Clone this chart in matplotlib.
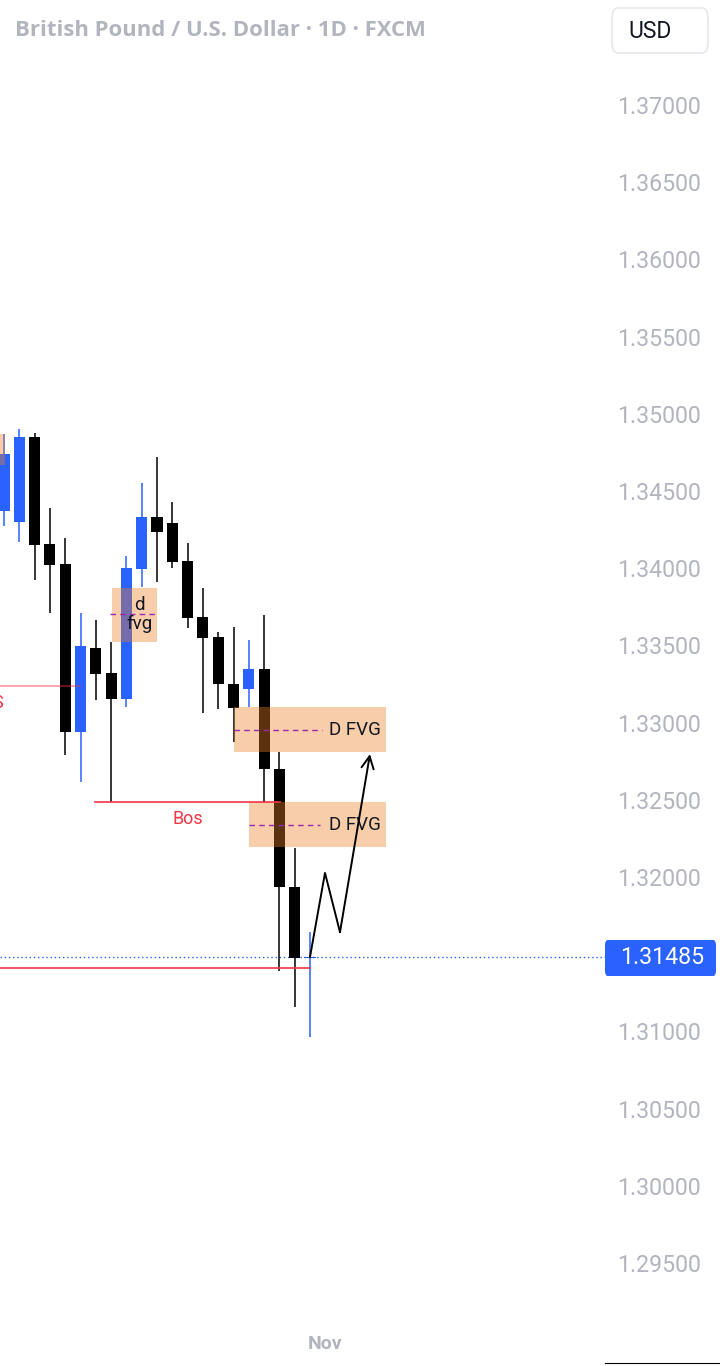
import matplotlib
matplotlib.use("Agg")
import matplotlib.pyplot as plt
from matplotlib.patches import Rectangle, FancyBboxPatch
import numpy as np

plt.rcParams['font.family'] = ['Roboto', 'DejaVu Sans']

# ---- data ----
opens  = [1.34373, 1.34299, 1.34850, 1.34157, 1.34027, 1.32939, 1.33483, 1.33321, 1.33153, 1.33995,
          1.34331, 1.34293, 1.34046, 1.33684, 1.33554, 1.33250, 1.33217, 1.33347, 1.32699, 1.31935, 1.31475]
highs  = [1.34871, 1.34901, 1.34876, 1.34390, 1.34195, 1.33710, 1.33664, 1.33522, 1.34079, 1.34552,
          1.34720, 1.34429, 1.34163, 1.33872, 1.33587, 1.33619, 1.33535, 1.33697, 1.32809, 1.32188, 1.31643]
lows   = [1.34276, 1.34170, 1.33923, 1.33710, 1.32790, 1.32615, 1.33146, 1.32486, 1.33101, 1.33878,
          1.33910, 1.34001, 1.33613, 1.33062, 1.33088, 1.32874, 1.33101, 1.32479, 1.31391, 1.31158, 1.30963]
closes = [1.34742, 1.34850, 1.34150, 1.34021, 1.32939, 1.33496, 1.33315, 1.33153, 1.34001, 1.34331,
          1.34234, 1.34040, 1.33677, 1.33548, 1.33250, 1.33094, 1.33347, 1.32699, 1.31935, 1.31475, 1.31485]

price_ticks = [1.37000, 1.36500, 1.36000, 1.35500, 1.35000, 1.34500, 1.34000, 1.33500,
               1.33000, 1.32500, 1.32000, 1.31000, 1.30500, 1.30000, 1.29500]
last_price = 1.31485
time_label = "Nov"
time_label_idx = 21

# annotation zones: (x0, x1, top, bottom)
fvg_zones = [(-1.0, 0.07, 1.34869, 1.34668),
             (7.06, 10.0, 1.33872, 1.33522),
             (15.03, 24.97, 1.33101, 1.32809),
             (16.01, 24.97, 1.32486, 1.32194)]
fvg_mids = [(6.93, 10.0, 1.33703), (15.03, 20.78, 1.32955), (16.0, 20.65, 1.32340)]
fvg_labels = [("d\nfvg", 8.85, 1.33700), ("D FVG", 22.95, 1.32955), ("D FVG", 22.95, 1.32340)]
red_lines = [(-0.5, 4.97, 1.33237, 0.5), (5.95, 18.04, 1.32486, 1.0), (-0.5, 20.0, 1.31410, 1.0)]
arrow_x = [20.0, 20.98, 21.96, 23.92]
arrow_y = [1.31482, 1.32026, 1.31643, 1.32796]

# ---- figure ----
W, H = 720, 1366
fig = plt.figure(figsize=(W / 100, H / 100), dpi=100)
ax_left, ax_right = 0, 605
ax_top, ax_bot = 0, 1320
ax = fig.add_axes([ax_left / W, 1 - ax_bot / H, (ax_right - ax_left) / W, (ax_bot - ax_top) / H])

ppx = 0.005 / 77.2
ax.set_ylim(1.37 - (ax_bot - 105) * ppx, 1.37 + 105 * ppx)
ax.set_xlim(-4 / 15.3, (605 - 4) / 15.3)

blue = '#2962FF'
n = len(opens)
xs = np.arange(n)
cols = [blue if c >= o else '#000000' for o, c in zip(opens, closes)]
ax.vlines(xs, lows, highs, colors=cols, linewidth=1.1, zorder=2)
bottoms = [min(o, c) for o, c in zip(opens, closes)]
heights = [max(abs(c - o), 0.00004) for o, c in zip(opens, closes)]
ax.bar(xs, heights, bottom=bottoms, width=0.72, color=cols, zorder=3, linewidth=0)

for x0, x1, top, bot in fvg_zones:
    ax.add_patch(Rectangle((x0, bot), x1 - x0, top - bot, facecolor='#EC8026', alpha=0.39,
                           edgecolor='none', zorder=4))
for x0, x1, y in fvg_mids:
    ax.plot([x0, x1], [y, y], color='#9C27B0', linestyle=(0, (4, 3)), linewidth=1, zorder=5)
for txt, x, y in fvg_labels:
    ax.text(x, y, txt, ha='center', va='center', fontsize=13.5, color='#131722', zorder=6,
            linespacing=1.0)

for x0, x1, y, a in red_lines:
    ax.plot([x0, x1], [y, y], color='#F23645', alpha=a, linewidth=1.2, zorder=5)
ax.text(12.03, 1.32375, "Bos", ha='center', va='center', fontsize=13, color='#F23645', zorder=6)
ax.text(-0.75, 1.33127, "S", ha='left', va='center', fontsize=13, color='#F23645', zorder=6, clip_on=True)

# current price dotted line
ax.axhline(last_price, color=blue, linestyle=(0, (1, 2)), linewidth=1, zorder=1)

# arrow path
ax.plot(arrow_x[:3], arrow_y[:3], color='#000000', linewidth=1.4, zorder=7)
ax.annotate('', xy=(arrow_x[3], arrow_y[3]), xytext=(arrow_x[2], arrow_y[2]),
            arrowprops=dict(arrowstyle='->', color='#000000', lw=1.4, mutation_scale=22,
                            shrinkA=0, shrinkB=0), zorder=7)

# axes styling
for s in ax.spines.values():
    s.set_visible(False)
ax.yaxis.tick_right()
ax.set_yticks(price_ticks)
ax.set_yticklabels([f"{p:.5f}" for p in price_ticks])
ax.tick_params(axis='y', length=0, pad=9, labelsize=16.7, labelcolor='#B2B5BE')
ax.set_xticks([time_label_idx])
ax.set_xticklabels([time_label])
ax.tick_params(axis='x', length=0, pad=11, labelsize=14, labelcolor='#B2B5BE')
for lbl in ax.get_xticklabels():
    lbl.set_fontweight('bold')

# title
fig.text(15 / W, 1 - 31 / H, "British Pound / U.S. Dollar · 1D · FXCM", ha='left', va='center',
         fontsize=15.9, color='#B2B5BE', fontweight='bold', family=['Open Sans', 'DejaVu Sans'])

# USD box
fig.patches.append(FancyBboxPatch((612 / W, 1 - 53 / H), 96 / W, 45 / H,
                                  boxstyle='round,pad=0,rounding_size=0.008', transform=fig.transFigure,
                                  facecolor='white', edgecolor='#E0E3EB', linewidth=1))
fig.text(628 / W, 1 - 31 / H, "USD", ha='left', va='center', fontsize=16.5, color='#131722')

# last price tag
fig.patches.append(FancyBboxPatch((605 / W, 1 - 976 / H), 111 / W, 36 / H,
                                  boxstyle='round,pad=0,rounding_size=0.004', transform=fig.transFigure,
                                  facecolor=blue, edgecolor='none'))
fig.text(620 / W, 1 - 958 / H, f"{last_price:.5f}", ha='left', va='center', fontsize=16.7, color='white')

# bottom-right border
fig.add_artist(plt.Line2D([605 / W, 1], [1 - 1363 / H, 1 - 1363 / H], color='#000000', linewidth=0.8,
                          transform=fig.transFigure))

fig.savefig("out.png", dpi=100)
